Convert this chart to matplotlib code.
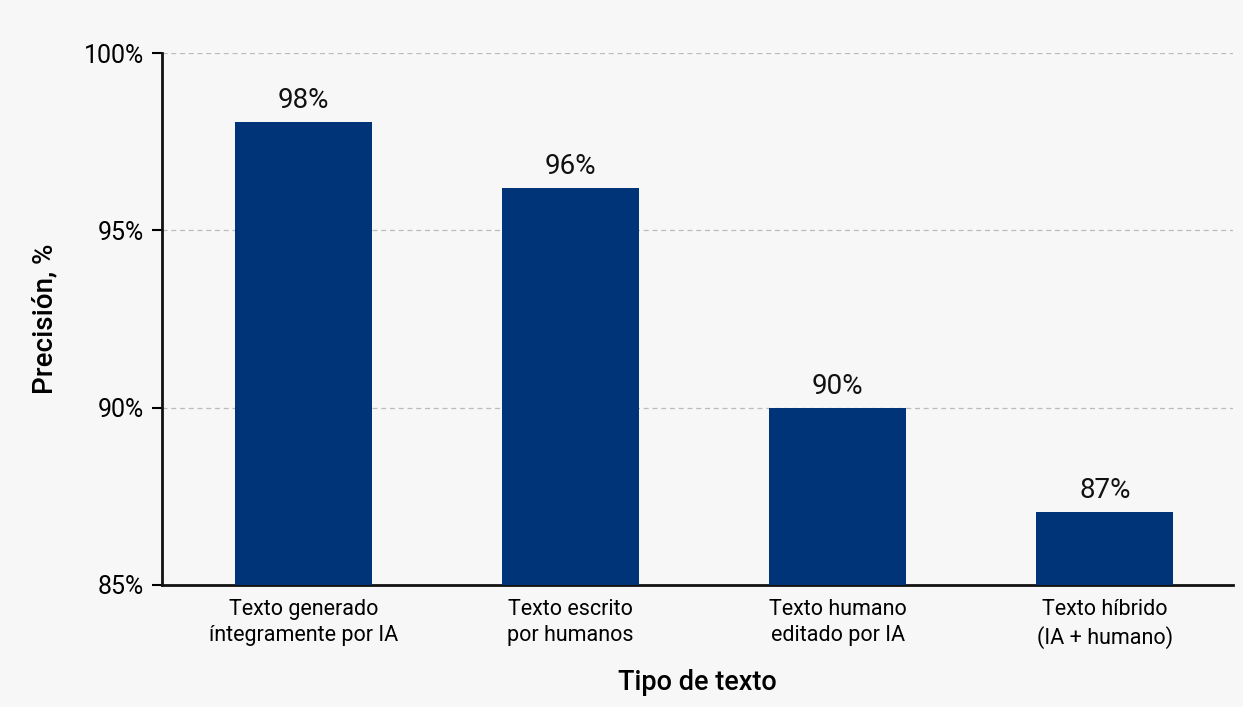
import matplotlib
matplotlib.use("Agg")
import matplotlib.pyplot as plt

categories = ["Texto generado\níntegramente por IA", "Texto escrito\npor humanos",
              "Texto humano\neditado por IA", "Texto híbrido\n(IA + humano)"]
values = [98.05, 96.2, 90.0, 87.05]
value_labels = ["98%", "96%", "90%", "87%"]
yticks = [85, 90, 95, 100]
ytick_labels = ["85%", "90%", "95%", "100%"]

plt.rcParams['font.family'] = ['Roboto', 'DejaVu Sans']
bg = '#f7f7f7'
fig = plt.figure(figsize=(12.43, 7.07), dpi=100, facecolor=bg)
ax = fig.add_axes([0.1303, 0.1726, 0.8617, 0.7524], facecolor=bg)

x = list(range(len(categories)))
ax.bar(x, values, width=0.513, color='#003478', zorder=3, bottom=0)
for xi, v, lab in zip(x, values, value_labels):
    ax.text(xi, v + 0.22, lab, ha='center', va='bottom', fontsize=20, color='#111111')

ax.set_ylim(85, 100)
ax.set_xlim(-0.53, 3.48)
ax.set_yticks(yticks)
ax.set_yticklabels(ytick_labels, fontsize=18)
ax.set_xticks(x)
ax.set_xticklabels(categories, fontsize=15.5, linespacing=1.35)
ax.tick_params(axis='x', length=0, pad=10)
ax.tick_params(axis='y', length=7, width=1.5, pad=6)
ax.yaxis.grid(True, linestyle=(0, (4, 3)), color='#bbbbbb', linewidth=0.9, zorder=0)
for s in ['top', 'right']:
    ax.spines[s].set_visible(False)
for s in ['left', 'bottom']:
    ax.spines[s].set_linewidth(2)
    ax.spines[s].set_color('#111111')
ax.set_ylabel("Precisión, %", fontsize=20, fontweight='medium', labelpad=18)
ax.set_xlabel("Tipo de texto", fontsize=19.5, fontweight='medium', labelpad=14)

fig.savefig("out.png", dpi=100, facecolor=bg)
